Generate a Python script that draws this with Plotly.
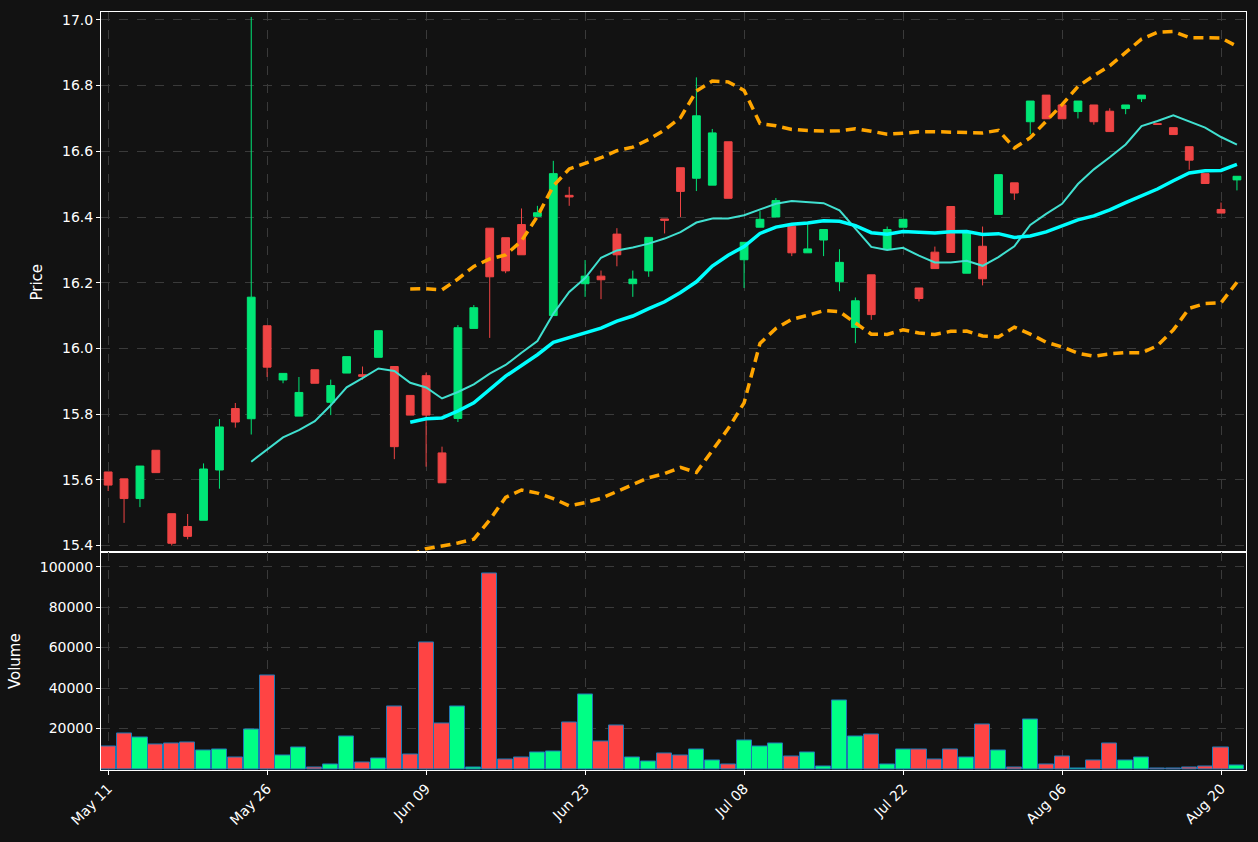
import plotly.graph_objects as go
from plotly.subplots import make_subplots
import pandas as pd

opens = [15.624, 15.603, 15.543, 15.690, 15.497, 15.458, 15.477, 15.630, 15.817, 15.786,
         16.069, 15.904, 15.794, 15.935, 15.836, 15.925, 15.920, 15.973, 15.945, 15.857,
         15.917, 15.682, 15.787, 16.061, 16.366, 16.337, 16.377, 16.402, 16.100, 16.466,
         16.197, 16.220, 16.348, 16.197, 16.236, 16.394, 16.550, 16.518, 16.497, 16.629,
         16.270, 16.369, 16.400, 16.372, 16.291, 16.330, 16.203, 16.064, 16.224, 16.302,
         16.369, 16.184, 16.293, 16.432, 16.229, 16.311, 16.408, 16.504, 16.690, 16.771,
         16.741, 16.721, 16.741, 16.722, 16.730, 16.760, 16.684, 16.672, 16.614, 16.532,
         16.423, 16.513]
highs = [15.624, 15.603, 15.642, 15.690, 15.497, 15.496, 15.650, 15.785, 15.834, 17.009,
         16.069, 15.924, 15.913, 15.935, 15.905, 15.975, 15.945, 16.054, 15.945, 15.857,
         15.926, 15.701, 16.071, 16.132, 16.366, 16.337, 16.426, 16.434, 16.571, 16.492,
         16.269, 16.237, 16.366, 16.237, 16.338, 16.394, 16.550, 16.825, 16.668, 16.629,
         16.323, 16.418, 16.458, 16.372, 16.378, 16.362, 16.302, 16.155, 16.224, 16.371,
         16.393, 16.184, 16.310, 16.432, 16.351, 16.371, 16.529, 16.504, 16.753, 16.771,
         16.741, 16.753, 16.741, 16.731, 16.741, 16.771, 16.684, 16.672, 16.614, 16.532,
         16.444, 16.524]
lows = [15.566, 15.469, 15.517, 15.622, 15.400, 15.419, 15.477, 15.573, 15.759, 15.738,
        15.913, 15.894, 15.794, 15.894, 15.797, 15.925, 15.905, 15.973, 15.663, 15.797,
        15.640, 15.591, 15.776, 16.061, 16.032, 16.229, 16.285, 16.402, 16.100, 16.434,
        16.157, 16.150, 16.250, 16.157, 16.218, 16.350, 16.400, 16.479, 16.497, 16.457,
        16.184, 16.369, 16.400, 16.281, 16.291, 16.281, 16.174, 16.016, 16.087, 16.302,
        16.369, 16.143, 16.243, 16.292, 16.229, 16.192, 16.408, 16.452, 16.652, 16.699,
        16.699, 16.700, 16.681, 16.660, 16.713, 16.750, 16.682, 16.651, 16.544, 16.502,
        16.412, 16.481]
closes = [15.584, 15.543, 15.642, 15.622, 15.407, 15.428, 15.633, 15.761, 15.776, 16.156,
          15.943, 15.924, 15.866, 15.894, 15.887, 15.975, 15.915, 16.054, 15.701, 15.797,
          15.797, 15.591, 16.063, 16.124, 16.218, 16.236, 16.285, 16.413, 16.532, 16.461,
          16.220, 16.209, 16.285, 16.211, 16.338, 16.390, 16.478, 16.708, 16.656, 16.457,
          16.323, 16.393, 16.450, 16.291, 16.303, 16.362, 16.262, 16.145, 16.103, 16.362,
          16.393, 16.152, 16.243, 16.292, 16.351, 16.212, 16.529, 16.473, 16.753, 16.699,
          16.699, 16.753, 16.690, 16.660, 16.741, 16.771, 16.682, 16.651, 16.573, 16.502,
          16.412, 16.524]
volumes = [11150, 17540, 15570, 12130, 12620, 13110, 9180, 9670, 5740, 19510,
           46070, 6720, 10660, 820, 2300, 16070, 3280, 5250, 30820, 7210,
           62300, 22460, 30820, 820, 96720, 4750, 5740, 8200, 8690, 22950,
           36720, 13610, 21480, 5740, 3770, 7700, 6720, 9670, 4260, 2300,
           14100, 11150, 12620, 6230, 8200, 1310, 33770, 16070, 17050, 2300,
           9670, 9670, 4750, 9670, 5740, 21970, 9180, 820, 24430, 2300,
           6230, 330, 4260, 12620, 4260, 5740, 300, 300, 820, 1310,
           10660, 1800]
tick_idx = [0, 10, 20, 30, 40, 50, 60, 70]
tick_text = ['May 11', 'May 26', 'Jun 09', 'Jun 23', 'Jul 08', 'Jul 22', 'Aug 06', 'Aug 20']

idx = list(range(len(closes)))
close_s = pd.Series(closes)
ma10 = close_s.rolling(10).mean()
ma20 = close_s.rolling(20).mean()
sd20 = close_s.rolling(20).std()
upper = ma20 + 2 * sd20
lower = ma20 - 2 * sd20

up_col = '#00e676'
down_col = '#ef4444'
vol_cols = ['#00ff85' if c >= o else '#ff4444' for o, c in zip(opens, closes)]

fig = make_subplots(rows=2, cols=1, shared_xaxes=True, vertical_spacing=0,
                    row_heights=[0.713, 0.287])

fig.add_trace(go.Candlestick(
    x=idx, open=opens, high=highs, low=lows, close=closes,
    increasing=dict(line=dict(color=up_col, width=1), fillcolor=up_col),
    decreasing=dict(line=dict(color=down_col, width=1), fillcolor=down_col),
    whiskerwidth=0, showlegend=False), row=1, col=1)

fig.add_trace(go.Scatter(x=idx, y=ma10, mode='lines',
                         line=dict(color='#40e0d0', width=2), showlegend=False), row=1, col=1)
fig.add_trace(go.Scatter(x=idx, y=ma20, mode='lines',
                         line=dict(color='#00ffff', width=3.5), showlegend=False), row=1, col=1)
for band in (upper, lower):
    fig.add_trace(go.Scatter(x=idx, y=band, mode='lines',
                             line=dict(color='#ffa500', width=3.5, dash='10px,6px'),
                             showlegend=False), row=1, col=1)

fig.add_trace(go.Bar(x=idx, y=volumes, width=0.95, marker=dict(
    color=vol_cols, line=dict(color='#1f77b4', width=1)), showlegend=False), row=2, col=1)

axis_style = dict(showline=True, linecolor='white', linewidth=1, mirror=True,
                  gridcolor='#3a3a3a', griddash='dash', zeroline=False,
                  ticks='outside', tickcolor='white', ticklen=4,
                  tickfont=dict(color='white', size=14))

fig.update_xaxes(**axis_style, range=[-0.45, 71.57], tickvals=tick_idx,
                 ticktext=tick_text, tickangle=-45, rangeslider_visible=False)
fig.update_xaxes(showticklabels=False, row=1, col=1)
fig.update_yaxes(**axis_style)
fig.update_yaxes(range=[15.379, 17.024], tickvals=[15.4, 15.6, 15.8, 16.0, 16.2, 16.4, 16.6, 16.8, 17.0],
                 tickformat='.1f', title=dict(text='Price', font=dict(color='white', size=15)),
                 row=1, col=1)
fig.update_yaxes(range=[-500, 107000], tickvals=[20000, 40000, 60000, 80000, 100000],
                 tickformat='d', title=dict(text='Volume', font=dict(color='white', size=15)),
                 row=2, col=1)

fig.update_layout(width=1258, height=842, paper_bgcolor='#121212', plot_bgcolor='#121212',
                  margin=dict(l=101, r=12, t=12, b=72),
                  font=dict(family='DejaVu Sans', color='white'), bargap=0)

fig.write_html('out.html', config={'displayModeBar': False},
               post_script="document.body.style.margin='0';document.body.style.background='#121212';")
